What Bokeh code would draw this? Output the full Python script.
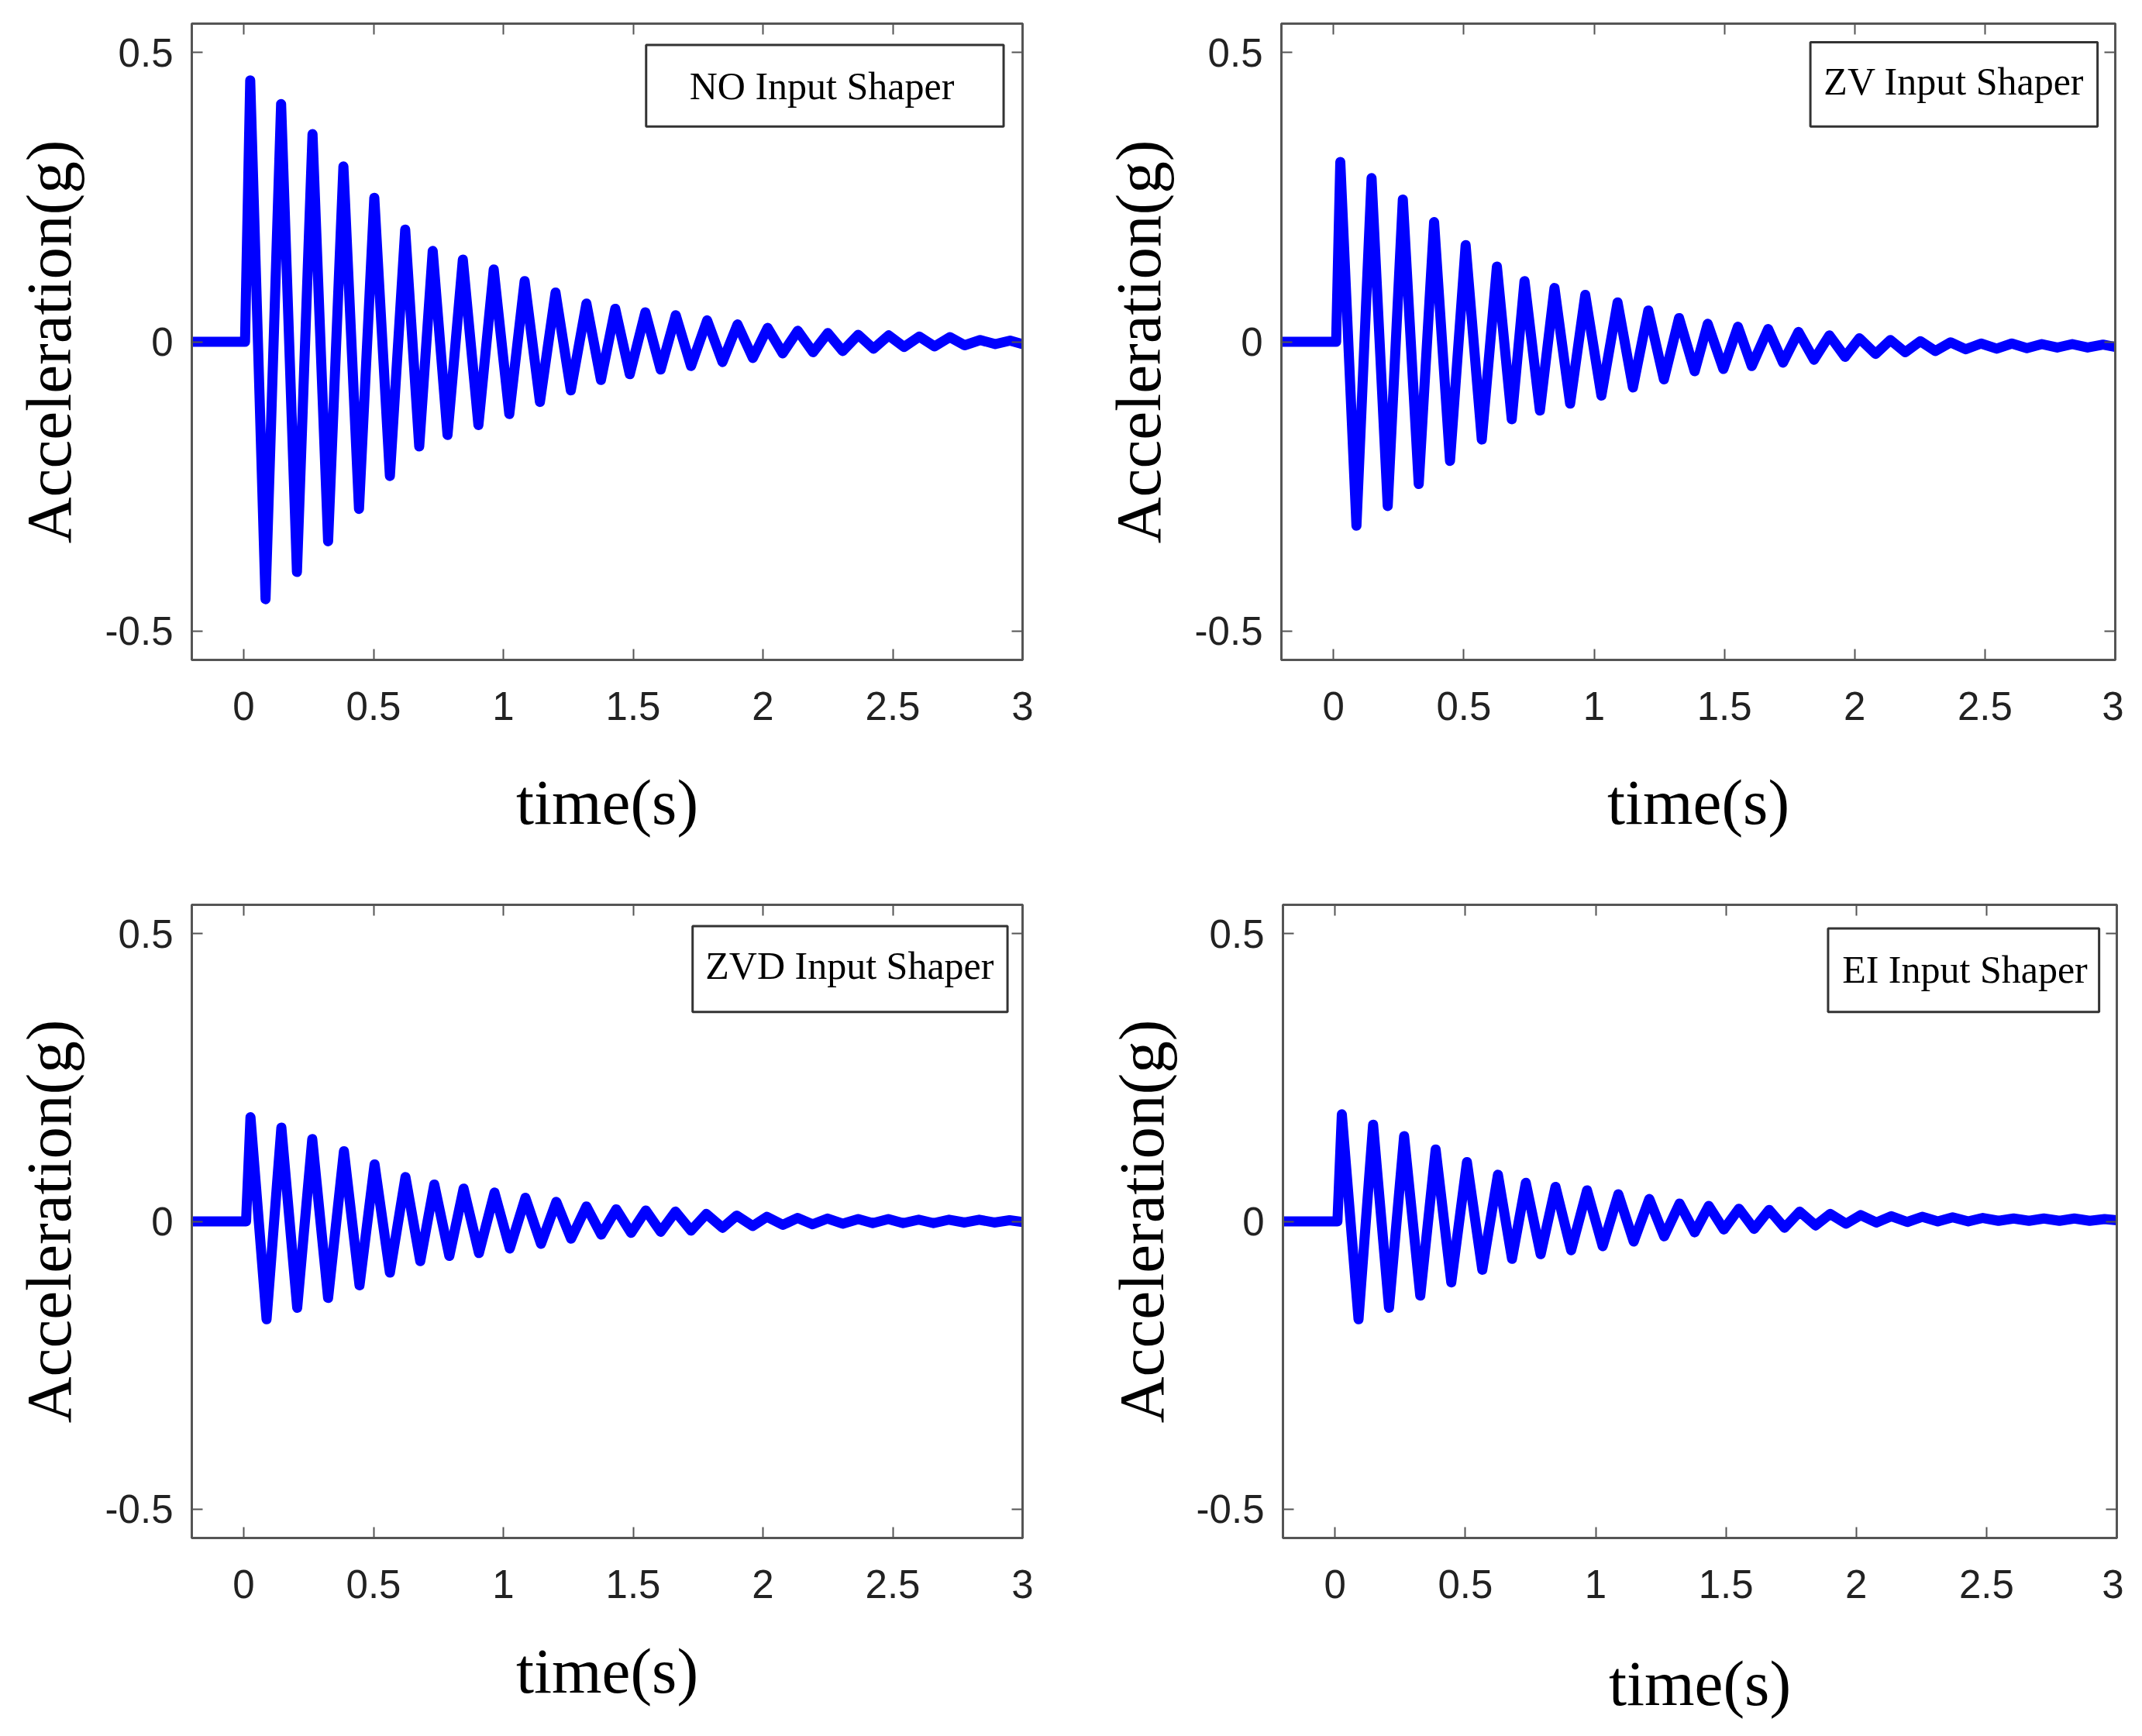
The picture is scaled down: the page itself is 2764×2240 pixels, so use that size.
from bokeh.plotting import figure
from bokeh.models import FixedTicker, LinearAxis, BoxAnnotation, Label, Range1d
from bokeh.layouts import row, column
from bokeh.embed import file_html
from bokeh.resources import INLINE

# ---------------- data ----------------
x_ticks = [0, 0.5, 1, 1.5, 2, 2.5, 3]
x_tick_labels = ["0", "0.5", "1", "1.5", "2", "2.5", "3"]
y_ticks = [-0.5, 0, 0.5]
y_tick_labels = ["-0.5", "0", "0.5"]

panel_names = ["NO Input Shaper", "ZV Input Shaper", "ZVD Input Shaper", "EI Input Shaper"]

no_t = [-0.2, 0.005, 0.025, 0.084, 0.144, 0.205, 0.265, 0.325, 0.384, 0.444, 0.503, 0.563,
        0.622, 0.676, 0.728, 0.785, 0.844, 0.904, 0.963, 1.023, 1.082, 1.141, 1.201, 1.26,
        1.32, 1.376, 1.431, 1.487, 1.547, 1.606, 1.664, 1.723, 1.785, 1.844, 1.902, 1.961,
        2.018, 2.076, 2.134, 2.193, 2.25, 2.307, 2.367, 2.426, 2.484, 2.544, 2.602, 2.661,
        2.72, 2.777, 2.837, 2.895, 2.952, 3.0]
no_v = [0, 0, 0.452, -0.445, 0.411, -0.398, 0.359, -0.345, 0.303, -0.289, 0.249, -0.232,
        0.194, -0.181, 0.157, -0.161, 0.142, -0.144, 0.125, -0.125, 0.105, -0.104, 0.085, -0.084,
        0.066, -0.066, 0.057, -0.056, 0.051, -0.048, 0.046, -0.042, 0.037, -0.035, 0.030, -0.028,
        0.024, -0.020, 0.019, -0.018, 0.015, -0.016, 0.012, -0.012, 0.011, -0.009, 0.009, -0.008,
        0.008, -0.006, 0.003, -0.004, 0.002, -0.004]

zv_t = [-0.2, 0.01, 0.026, 0.088, 0.146, 0.208, 0.266, 0.327, 0.386, 0.447, 0.507, 0.569,
        0.627, 0.684, 0.733, 0.792, 0.848, 0.908, 0.966, 1.028, 1.09, 1.149, 1.208, 1.268,
        1.326, 1.386, 1.436, 1.496, 1.552, 1.605, 1.668, 1.725, 1.784, 1.844, 1.903, 1.963,
        2.018, 2.08, 2.137, 2.194, 2.252, 2.31, 2.368, 2.426, 2.485, 2.545, 2.603, 2.661,
        2.718, 2.777, 2.835, 2.894, 2.953, 3.0]
zv_v = [0, 0, 0.311, -0.318, 0.283, -0.284, 0.246, -0.246, 0.207, -0.206, 0.167, -0.169,
        0.130, -0.134, 0.105, -0.119, 0.093, -0.107, 0.081, -0.093, 0.068, -0.079, 0.054, -0.065,
        0.041, -0.051, 0.031, -0.047, 0.026, -0.042, 0.022, -0.036, 0.017, -0.031, 0.011, -0.026,
        0.006, -0.021, 0.003, -0.018, 0.001, -0.016, -0.001, -0.013, -0.003, -0.012, -0.003, -0.011,
        -0.004, -0.010, -0.004, -0.010, -0.005, -0.009]

zvd_t = [-0.2, 0.009, 0.026, 0.088, 0.145, 0.206, 0.264, 0.325, 0.386, 0.446, 0.504, 0.563,
         0.623, 0.680, 0.734, 0.792, 0.847, 0.906, 0.966, 1.025, 1.085, 1.145, 1.204, 1.261,
         1.320, 1.377, 1.435, 1.492, 1.549, 1.606, 1.663, 1.723, 1.782, 1.844, 1.899, 1.961,
         2.015, 2.077, 2.133, 2.191, 2.249, 2.307, 2.367, 2.423, 2.483, 2.54, 2.6, 2.657,
         2.717, 2.777, 2.833, 2.891, 2.95, 3.0]
zvd_v = [0, 0, 0.181, -0.17, 0.163, -0.15, 0.143, -0.133, 0.122, -0.111, 0.099, -0.089,
         0.077, -0.069, 0.064, -0.060, 0.057, -0.055, 0.050, -0.047, 0.041, -0.039, 0.034, -0.030,
         0.026, -0.023, 0.021, -0.020, 0.019, -0.018, 0.017, -0.016, 0.013, -0.011, 0.010, -0.008,
         0.008, -0.006, 0.006, -0.005, 0.005, -0.004, 0.004, -0.003, 0.004, -0.003, 0.003, -0.003,
         0.003, -0.002, 0.003, -0.002, 0.002, -0.001]

ei_t = [-0.2, 0.009, 0.026, 0.09, 0.146, 0.207, 0.265, 0.327, 0.386, 0.446, 0.506, 0.565,
        0.625, 0.679, 0.732, 0.789, 0.846, 0.906, 0.967, 1.027, 1.087, 1.146, 1.206, 1.263,
        1.322, 1.380, 1.434, 1.492, 1.55, 1.608, 1.666, 1.725, 1.783, 1.844, 1.9, 1.961,
        2.017, 2.077, 2.135, 2.196, 2.253, 2.313, 2.37, 2.43, 2.486, 2.546, 2.604, 2.663,
        2.72, 2.78, 2.837, 2.896, 2.953, 3.0]
ei_v = [0, 0, 0.186, -0.17, 0.168, -0.15, 0.148, -0.129, 0.125, -0.106, 0.103, -0.084,
        0.081, -0.065, 0.067, -0.057, 0.060, -0.050, 0.054, -0.043, 0.047, -0.035, 0.039, -0.026,
        0.031, -0.019, 0.027, -0.014, 0.022, -0.013, 0.020, -0.011, 0.017, -0.007, 0.013, -0.004,
        0.011, -0.002, 0.009, -0.001, 0.008, 0.0, 0.007, 0.0, 0.006, 0.001, 0.005, 0.001,
        0.005, 0.001, 0.005, 0.001, 0.004, 0.002]

# ---------------- styling ----------------
FRAME = "#555555"
TICK_FONT = "Liberation Sans"
SERIF = "Liberation Serif"
LINE_BLUE = "#0000ff"


def panel(t, v, name, w, h, bl, br, bt, bb, box, txt, xstand, ystand):
    p = figure(width=w, height=h, output_backend="svg", toolbar_location=None,
               x_range=Range1d(-0.2, 3.0), y_range=Range1d(-0.55, 0.55),
               min_border_left=bl, min_border_right=br,
               min_border_top=bt, min_border_bottom=bb,
               x_axis_label="time(s)", y_axis_label="Acceleration(g)")
    p.grid.visible = False
    p.background_fill_color = "white"
    p.border_fill_color = "white"
    p.outline_line_color = FRAME
    p.outline_line_width = 3

    for ax, ticks, labels, stand, lstand in ((p.xaxis[0], x_ticks, x_tick_labels, 41, xstand),
                                             (p.yaxis[0], y_ticks, y_tick_labels, 24, ystand)):
        ax.ticker = FixedTicker(ticks=ticks)
        ax.major_label_overrides = {tk: lb for tk, lb in zip(ticks, labels)}
        ax.major_tick_in = 14
        ax.major_tick_out = 0
        ax.major_tick_line_color = FRAME
        ax.major_tick_line_width = 2
        ax.minor_tick_line_color = None
        ax.axis_line_color = FRAME
        ax.axis_line_width = 3
        ax.major_label_text_font = TICK_FONT
        ax.major_label_text_font_size = "51px"
        ax.major_label_text_color = "#222222"
        ax.major_label_standoff = stand
        ax.axis_label_text_font = SERIF
        ax.axis_label_text_font_style = "normal"
        ax.axis_label_text_font_size = "83px"
        ax.axis_label_text_color = "black"
        ax.axis_label_standoff = lstand

    for ticks, side in ((x_ticks, "above"), (y_ticks, "right")):
        ax = LinearAxis(ticker=FixedTicker(ticks=ticks),
                        major_label_text_font_size="0px",
                        major_label_text_color=None,
                        major_label_standoff=0,
                        major_tick_in=14, major_tick_out=0,
                        major_tick_line_color=FRAME, major_tick_line_width=2,
                        minor_tick_line_color=None,
                        axis_line_color=FRAME, axis_line_width=3)
        p.add_layout(ax, side)

    p.line(t, v, line_color=LINE_BLUE, line_width=13, line_join="round", line_cap="round")

    p.add_layout(BoxAnnotation(left=box[0], right=box[1], top=box[2], bottom=box[3],
                               fill_color="white", fill_alpha=1.0,
                               line_color="#333333", line_width=3, line_alpha=1.0))
    p.add_layout(Label(x=txt[0], y=txt[1], text=name, text_align="center",
                       text_baseline="middle", text_font=SERIF,
                       text_font_size="50px", text_color="black"))
    return p


p1 = panel(no_t, no_v, panel_names[0], 1380, 1120, 247, 61, 30, 269,
           (1.55, 2.927, 0.513, 0.372), (2.227, 0.442), 57, 24)
p2 = panel(zv_t, zv_v, panel_names[1], 1360, 1120, 273, 11, 30, 269,
           (1.83, 2.932, 0.518, 0.372), (2.381, 0.45), 57, 24)
p3 = panel(zvd_t, zvd_v, panel_names[2], 1380, 1100, 247, 61, 47, 232,
           (1.729, 2.942, 0.513, 0.364), (2.334, 0.444), 45, 24)
p4 = panel(ei_t, ei_v, panel_names[3], 1360, 1100, 275, 9, 47, 232,
           (1.892, 2.932, 0.509, 0.364), (2.417, 0.438), 61, 22)

layout = column(row(p1, p2), row(p3, p4))
open("out.html", "w").write(file_html(layout, INLINE))
